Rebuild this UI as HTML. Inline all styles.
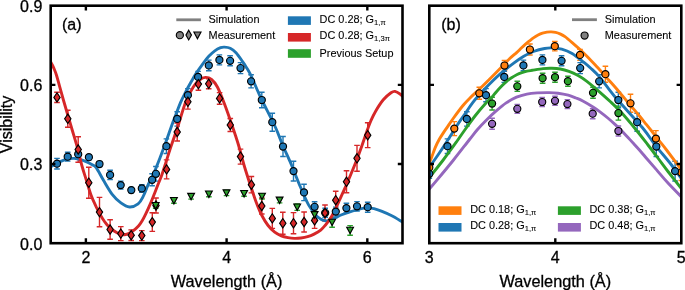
<!DOCTYPE html>
<html><head><meta charset="utf-8"><title>Visibility vs wavelength</title>
<style>
html,body{margin:0;padding:0;background:#fff;width:685px;height:290px;overflow:hidden;}
svg{display:block;will-change:transform;font-family:"Liberation Sans",sans-serif;}
text{fill:#000;stroke:#000;stroke-width:0.3px;}
text.l{stroke-width:0.1px;}
</style></head><body>
<svg width="685" height="290" viewBox="0 0 685 290">
<defs><clipPath id="ca"><rect x="50.70" y="5.70" width="351.80" height="237.50"/></clipPath><clipPath id="cb"><rect x="429.30" y="5.70" width="252.00" height="237.50"/></clipPath></defs>
<g clip-path="url(#ca)"><path d="M57.00,158.40V169.00M54.20,158.40H59.80M54.20,169.00H59.80" stroke="#1f77b4" stroke-width="1.4" fill="none"/>
<path d="M67.70,152.30V161.10M64.90,152.30H70.50M64.90,161.10H70.50" stroke="#1f77b4" stroke-width="1.4" fill="none"/>
<path d="M78.20,151.60V156.80M75.40,151.60H81.00M75.40,156.80H81.00" stroke="#1f77b4" stroke-width="1.4" fill="none"/>
<path d="M88.90,154.60V159.80M86.10,154.60H91.70M86.10,159.80H91.70" stroke="#1f77b4" stroke-width="1.4" fill="none"/>
<path d="M99.50,161.40V166.60M96.70,161.40H102.30M96.70,166.60H102.30" stroke="#1f77b4" stroke-width="1.4" fill="none"/>
<path d="M110.10,170.30V179.50M107.30,170.30H112.90M107.30,179.50H112.90" stroke="#1f77b4" stroke-width="1.4" fill="none"/>
<path d="M120.70,181.10V189.10M117.90,181.10H123.50M117.90,189.10H123.50" stroke="#1f77b4" stroke-width="1.4" fill="none"/>
<path d="M131.30,187.50V192.70M128.50,187.50H134.10M128.50,192.70H134.10" stroke="#1f77b4" stroke-width="1.4" fill="none"/>
<path d="M141.80,184.60V192.20M139.00,184.60H144.60M139.00,192.20H144.60" stroke="#1f77b4" stroke-width="1.4" fill="none"/>
<path d="M152.10,173.80V185.80M149.30,173.80H154.90M149.30,185.80H154.90" stroke="#1f77b4" stroke-width="1.4" fill="none"/>
<path d="M155.90,166.50V181.10M153.10,166.50H158.70M153.10,181.10H158.70" stroke="#1f77b4" stroke-width="1.4" fill="none"/>
<path d="M166.40,138.90V153.50M163.60,138.90H169.20M163.60,153.50H169.20" stroke="#1f77b4" stroke-width="1.4" fill="none"/>
<path d="M177.20,111.70V126.10M174.40,111.70H180.00M174.40,126.10H180.00" stroke="#1f77b4" stroke-width="1.4" fill="none"/>
<path d="M187.90,88.60V101.80M185.10,88.60H190.70M185.10,101.80H190.70" stroke="#1f77b4" stroke-width="1.4" fill="none"/>
<path d="M198.10,71.40V82.40M195.30,71.40H200.90M195.30,82.40H200.90" stroke="#1f77b4" stroke-width="1.4" fill="none"/>
<path d="M208.80,60.10V70.70M206.00,60.10H211.60M206.00,70.70H211.60" stroke="#1f77b4" stroke-width="1.4" fill="none"/>
<path d="M219.40,54.90V64.90M216.60,54.90H222.20M216.60,64.90H222.20" stroke="#1f77b4" stroke-width="1.4" fill="none"/>
<path d="M230.10,55.80V65.80M227.30,55.80H232.90M227.30,65.80H232.90" stroke="#1f77b4" stroke-width="1.4" fill="none"/>
<path d="M240.50,62.60V73.60M237.70,62.60H243.30M237.70,73.60H243.30" stroke="#1f77b4" stroke-width="1.4" fill="none"/>
<path d="M251.10,74.70V87.90M248.30,74.70H253.90M248.30,87.90H253.90" stroke="#1f77b4" stroke-width="1.4" fill="none"/>
<path d="M261.80,92.30V107.70M259.00,92.30H264.60M259.00,107.70H264.60" stroke="#1f77b4" stroke-width="1.4" fill="none"/>
<path d="M272.30,113.20V131.20M269.50,113.20H275.10M269.50,131.20H275.10" stroke="#1f77b4" stroke-width="1.4" fill="none"/>
<path d="M283.00,136.50V156.50M280.20,136.50H285.80M280.20,156.50H285.80" stroke="#1f77b4" stroke-width="1.4" fill="none"/>
<path d="M293.50,161.20V181.00M290.70,161.20H296.30M290.70,181.00H296.30" stroke="#1f77b4" stroke-width="1.4" fill="none"/>
<path d="M304.00,184.20V200.60M301.20,184.20H306.80M301.20,200.60H306.80" stroke="#1f77b4" stroke-width="1.4" fill="none"/>
<path d="M314.60,201.80V211.80M311.80,201.80H317.40M311.80,211.80H317.40" stroke="#1f77b4" stroke-width="1.4" fill="none"/>
<path d="M325.20,208.30V217.30M322.40,208.30H328.00M322.40,217.30H328.00" stroke="#1f77b4" stroke-width="1.4" fill="none"/>
<path d="M335.80,207.10V216.10M333.00,207.10H338.60M333.00,216.10H338.60" stroke="#1f77b4" stroke-width="1.4" fill="none"/>
<path d="M346.40,203.30V212.90M343.60,203.30H349.20M343.60,212.90H349.20" stroke="#1f77b4" stroke-width="1.4" fill="none"/>
<path d="M357.00,201.60V211.00M354.20,201.60H359.80M354.20,211.00H359.80" stroke="#1f77b4" stroke-width="1.4" fill="none"/>
<path d="M367.70,202.20V212.20M364.90,202.20H370.50M364.90,212.20H370.50" stroke="#1f77b4" stroke-width="1.4" fill="none"/>
<path d="M57.00,92.30V102.50M54.20,92.30H59.80M54.20,102.50H59.80" stroke="#d62728" stroke-width="1.4" fill="none"/>
<path d="M67.80,110.30V127.30M65.00,110.30H70.60M65.00,127.30H70.60" stroke="#d62728" stroke-width="1.4" fill="none"/>
<path d="M78.20,136.70V162.30M75.40,136.70H81.00M75.40,162.30H81.00" stroke="#d62728" stroke-width="1.4" fill="none"/>
<path d="M88.80,167.20V198.20M86.00,167.20H91.60M86.00,198.20H91.60" stroke="#d62728" stroke-width="1.4" fill="none"/>
<path d="M99.50,197.40V226.80M96.70,197.40H102.30M96.70,226.80H102.30" stroke="#d62728" stroke-width="1.4" fill="none"/>
<path d="M110.10,219.70V239.30M107.30,219.70H112.90M107.30,239.30H112.90" stroke="#d62728" stroke-width="1.4" fill="none"/>
<path d="M120.80,226.60V240.60M118.00,226.60H123.60M118.00,240.60H123.60" stroke="#d62728" stroke-width="1.4" fill="none"/>
<path d="M131.20,229.90V240.50M128.40,229.90H134.00M128.40,240.50H134.00" stroke="#d62728" stroke-width="1.4" fill="none"/>
<path d="M141.80,230.60V240.60M139.00,230.60H144.60M139.00,240.60H144.60" stroke="#d62728" stroke-width="1.4" fill="none"/>
<path d="M152.30,212.80V231.40M149.50,212.80H155.10M149.50,231.40H155.10" stroke="#d62728" stroke-width="1.4" fill="none"/>
<path d="M156.00,198.00V213.00M153.20,198.00H158.80M153.20,213.00H158.80" stroke="#d62728" stroke-width="1.4" fill="none"/>
<path d="M166.60,159.90V178.90M163.80,159.90H169.40M163.80,178.90H169.40" stroke="#d62728" stroke-width="1.4" fill="none"/>
<path d="M177.20,123.00V141.00M174.40,123.00H180.00M174.40,141.00H180.00" stroke="#d62728" stroke-width="1.4" fill="none"/>
<path d="M187.90,94.50V109.10M185.10,94.50H190.70M185.10,109.10H190.70" stroke="#d62728" stroke-width="1.4" fill="none"/>
<path d="M198.40,77.90V90.30M195.60,77.90H201.20M195.60,90.30H201.20" stroke="#d62728" stroke-width="1.4" fill="none"/>
<path d="M208.70,78.80V88.80M205.90,78.80H211.50M205.90,88.80H211.50" stroke="#d62728" stroke-width="1.4" fill="none"/>
<path d="M219.60,92.60V104.20M216.80,92.60H222.40M216.80,104.20H222.40" stroke="#d62728" stroke-width="1.4" fill="none"/>
<path d="M230.30,118.50V131.50M227.50,118.50H233.10M227.50,131.50H233.10" stroke="#d62728" stroke-width="1.4" fill="none"/>
<path d="M240.50,149.10V164.10M237.70,149.10H243.30M237.70,164.10H243.30" stroke="#d62728" stroke-width="1.4" fill="none"/>
<path d="M251.40,176.50V192.90M248.60,176.50H254.20M248.60,192.90H254.20" stroke="#d62728" stroke-width="1.4" fill="none"/>
<path d="M261.80,198.00V214.00M259.00,198.00H264.60M259.00,214.00H264.60" stroke="#d62728" stroke-width="1.4" fill="none"/>
<path d="M272.30,208.40V228.40M269.50,208.40H275.10M269.50,228.40H275.10" stroke="#d62728" stroke-width="1.4" fill="none"/>
<path d="M282.80,212.20V234.20M280.00,212.20H285.60M280.00,234.20H285.60" stroke="#d62728" stroke-width="1.4" fill="none"/>
<path d="M293.50,212.60V233.80M290.70,212.60H296.30M290.70,233.80H296.30" stroke="#d62728" stroke-width="1.4" fill="none"/>
<path d="M304.10,212.00V232.00M301.30,212.00H306.90M301.30,232.00H306.90" stroke="#d62728" stroke-width="1.4" fill="none"/>
<path d="M314.60,212.40V228.40M311.80,212.40H317.40M311.80,228.40H317.40" stroke="#d62728" stroke-width="1.4" fill="none"/>
<path d="M325.00,205.00V221.00M322.20,205.00H327.80M322.20,221.00H327.80" stroke="#d62728" stroke-width="1.4" fill="none"/>
<path d="M335.70,191.20V209.20M332.90,191.20H338.50M332.90,209.20H338.50" stroke="#d62728" stroke-width="1.4" fill="none"/>
<path d="M346.50,170.80V192.80M343.70,170.80H349.30M343.70,192.80H349.30" stroke="#d62728" stroke-width="1.4" fill="none"/>
<path d="M357.00,145.40V171.20M354.20,145.40H359.80M354.20,171.20H359.80" stroke="#d62728" stroke-width="1.4" fill="none"/>
<path d="M367.70,122.80V147.60M364.90,122.80H370.50M364.90,147.60H370.50" stroke="#d62728" stroke-width="1.4" fill="none"/>
<path d="M155.70,203.10V208.30M152.90,203.10H158.50M152.90,208.30H158.50" stroke="#2ca02c" stroke-width="1.4" fill="none"/>
<path d="M173.90,198.10V203.30M171.10,198.10H176.70M171.10,203.30H176.70" stroke="#2ca02c" stroke-width="1.4" fill="none"/>
<path d="M191.10,193.90V199.10M188.30,193.90H193.90M188.30,199.10H193.90" stroke="#2ca02c" stroke-width="1.4" fill="none"/>
<path d="M208.90,191.60V196.80M206.10,191.60H211.70M206.10,196.80H211.70" stroke="#2ca02c" stroke-width="1.4" fill="none"/>
<path d="M226.50,190.40V195.60M223.70,190.40H229.30M223.70,195.60H229.30" stroke="#2ca02c" stroke-width="1.4" fill="none"/>
<path d="M244.10,191.10V196.30M241.30,191.10H246.90M241.30,196.30H246.90" stroke="#2ca02c" stroke-width="1.4" fill="none"/>
<path d="M262.00,193.80V199.00M259.20,193.80H264.80M259.20,199.00H264.80" stroke="#2ca02c" stroke-width="1.4" fill="none"/>
<path d="M279.60,197.70V202.90M276.80,197.70H282.40M276.80,202.90H282.40" stroke="#2ca02c" stroke-width="1.4" fill="none"/>
<path d="M297.20,204.00V210.40M294.40,204.00H300.00M294.40,210.40H300.00" stroke="#2ca02c" stroke-width="1.4" fill="none"/>
<path d="M314.60,211.30V218.30M311.80,211.30H317.40M311.80,218.30H317.40" stroke="#2ca02c" stroke-width="1.4" fill="none"/>
<path d="M332.10,217.60V227.20M329.30,217.60H334.90M329.30,227.20H334.90" stroke="#2ca02c" stroke-width="1.4" fill="none"/>
<path d="M350.10,225.60V235.20M347.30,225.60H352.90M347.30,235.20H352.90" stroke="#2ca02c" stroke-width="1.4" fill="none"/>
<path d="M48.50,167.50 C49.02,167.30 49.75,167.25 51.60,166.30 C53.45,165.35 56.80,163.03 59.60,161.80 C62.40,160.57 65.97,159.47 68.40,158.90 C70.83,158.33 71.77,158.17 74.20,158.40 C76.63,158.63 79.83,159.17 83.00,160.30 C86.17,161.43 90.92,163.85 93.20,165.20 C95.48,166.55 94.97,165.85 96.70,168.40 C98.43,170.95 101.02,176.18 103.60,180.50 C106.18,184.82 109.32,190.57 112.20,194.30 C115.08,198.03 118.02,200.78 120.90,202.90 C123.78,205.02 126.63,206.83 129.50,207.00 C132.37,207.17 135.80,205.70 138.10,203.90 C140.40,202.10 141.58,199.48 143.30,196.20 C145.02,192.92 146.65,188.02 148.40,184.20 C150.15,180.38 151.75,178.00 153.80,173.30 C155.85,168.60 158.68,161.22 160.70,156.00 C162.72,150.78 164.03,147.17 165.90,142.00 C167.77,136.83 170.18,129.70 171.90,125.00 C173.62,120.30 174.77,117.53 176.20,113.80 C177.63,110.07 178.92,106.27 180.50,102.60 C182.08,98.93 183.97,95.18 185.70,91.80 C187.43,88.42 189.18,85.33 190.90,82.30 C192.62,79.27 193.95,76.77 196.00,73.60 C198.05,70.43 201.03,66.22 203.20,63.30 C205.37,60.38 207.07,58.18 209.00,56.10 C210.93,54.02 212.87,52.20 214.80,50.80 C216.73,49.40 219.00,48.32 220.60,47.70 C222.20,47.08 222.80,47.00 224.40,47.10 C226.00,47.20 228.27,47.37 230.20,48.30 C232.13,49.23 233.93,50.48 236.00,52.70 C238.07,54.92 240.87,59.15 242.60,61.60 C244.33,64.05 245.03,65.15 246.40,67.40 C247.77,69.65 249.20,71.83 250.80,75.10 C252.40,78.37 254.20,82.93 256.00,87.00 C257.80,91.07 258.38,92.83 261.60,99.50 C264.82,106.17 271.80,119.42 275.30,127.00 C278.80,134.58 279.90,138.67 282.60,145.00 C285.30,151.33 288.60,158.17 291.50,165.00 C294.40,171.83 297.13,179.32 300.00,186.00 C302.87,192.68 305.80,199.98 308.70,205.10 C311.60,210.22 314.60,214.07 317.40,216.70 C320.20,219.33 323.18,220.38 325.50,220.90 C327.82,221.42 329.53,220.38 331.30,219.80 C333.07,219.22 334.48,218.20 336.10,217.40 C337.72,216.60 338.58,215.97 341.00,215.00 C343.42,214.03 347.38,212.63 350.60,211.60 C353.82,210.57 357.57,209.42 360.30,208.80 C363.03,208.18 364.72,207.92 367.00,207.90 C369.28,207.88 371.60,208.15 374.00,208.70 C376.40,209.25 378.43,210.02 381.40,211.20 C384.37,212.38 388.35,214.03 391.80,215.80 C395.25,217.57 399.57,220.30 402.10,221.80 C404.63,223.30 406.18,224.30 407.00,224.80" fill="none" stroke="#1f77b4" stroke-width="2.90" stroke-linecap="butt" stroke-linejoin="round"/>
<path d="M48.50,57.50 C49.02,58.52 50.68,61.75 51.60,63.60 C52.52,65.45 53.18,66.67 54.00,68.60 C54.82,70.53 55.57,72.23 56.50,75.20 C57.43,78.17 58.45,82.27 59.60,86.40 C60.75,90.53 62.03,95.23 63.40,100.00 C64.77,104.77 66.33,110.00 67.80,115.00 C69.27,120.00 70.58,124.50 72.20,130.00 C73.82,135.50 75.92,142.17 77.50,148.00 C79.08,153.83 80.23,159.67 81.70,165.00 C83.17,170.33 84.75,175.00 86.30,180.00 C87.85,185.00 89.38,190.58 91.00,195.00 C92.62,199.42 94.43,203.17 96.00,206.50 C97.57,209.83 98.98,212.50 100.40,215.00 C101.82,217.50 103.12,219.57 104.50,221.50 C105.88,223.43 106.62,224.72 108.70,226.60 C110.78,228.48 114.43,231.43 117.00,232.80 C119.57,234.17 121.52,235.07 124.10,234.80 C126.68,234.53 130.10,232.67 132.50,231.20 C134.90,229.73 136.87,227.77 138.50,226.00 C140.13,224.23 141.15,222.48 142.30,220.60 C143.45,218.72 144.10,217.40 145.40,214.70 C146.70,212.00 148.67,207.72 150.10,204.40 C151.53,201.08 152.72,198.03 154.00,194.80 C155.28,191.57 156.48,188.35 157.80,185.00 C159.12,181.65 160.55,178.47 161.90,174.70 C163.25,170.93 164.58,166.52 165.90,162.40 C167.22,158.28 168.47,154.07 169.80,150.00 C171.13,145.93 172.53,142.00 173.90,138.00 C175.27,134.00 175.98,132.17 178.00,126.00 C180.02,119.83 183.45,107.50 186.00,101.00 C188.55,94.50 191.05,90.50 193.30,87.00 C195.55,83.50 197.47,81.60 199.50,80.00 C201.53,78.40 203.50,77.48 205.50,77.40 C207.50,77.32 209.52,77.90 211.50,79.50 C213.48,81.10 215.23,82.92 217.40,87.00 C219.57,91.08 222.02,97.50 224.50,104.00 C226.98,110.50 229.97,119.17 232.30,126.00 C234.63,132.83 236.50,138.33 238.50,145.00 C240.50,151.67 242.22,159.00 244.30,166.00 C246.38,173.00 248.97,180.83 251.00,187.00 C253.03,193.17 254.73,198.33 256.50,203.00 C258.27,207.67 259.67,211.25 261.60,215.00 C263.53,218.75 265.92,222.65 268.10,225.50 C270.28,228.35 272.50,230.38 274.70,232.10 C276.90,233.82 279.10,234.88 281.30,235.80 C283.50,236.72 285.72,237.17 287.90,237.60 C290.08,238.03 292.22,238.33 294.40,238.40 C296.58,238.47 298.80,238.28 301.00,238.00 C303.20,237.72 305.42,237.35 307.60,236.70 C309.78,236.05 311.92,235.20 314.10,234.10 C316.28,233.00 318.80,231.62 320.70,230.10 C322.60,228.58 323.95,226.85 325.50,225.00 C327.05,223.15 328.62,221.08 330.00,219.00 C331.38,216.92 332.38,215.28 333.80,212.50 C335.22,209.72 336.68,206.27 338.50,202.30 C340.32,198.33 342.63,193.38 344.70,188.70 C346.77,184.02 348.93,178.90 350.90,174.20 C352.87,169.50 354.65,165.28 356.50,160.50 C358.35,155.72 360.25,150.42 362.00,145.50 C363.75,140.58 365.50,135.17 367.00,131.00 C368.50,126.83 369.58,123.77 371.00,120.50 C372.42,117.23 373.45,114.85 375.50,111.40 C377.55,107.95 380.72,102.90 383.30,99.80 C385.88,96.70 389.05,94.20 391.00,92.80 C392.95,91.40 393.43,91.15 395.00,91.40 C396.57,91.65 398.73,93.12 400.40,94.30 C402.07,95.48 404.23,97.80 405.00,98.50" fill="none" stroke="#d62728" stroke-width="2.90" stroke-linecap="butt" stroke-linejoin="round"/>
<circle cx="57.00" cy="163.70" r="3.55" fill="#1f77b4" stroke="#000" stroke-width="1.15"/>
<circle cx="67.70" cy="156.70" r="3.55" fill="#1f77b4" stroke="#000" stroke-width="1.15"/>
<circle cx="78.20" cy="154.20" r="3.55" fill="#1f77b4" stroke="#000" stroke-width="1.15"/>
<circle cx="88.90" cy="157.20" r="3.55" fill="#1f77b4" stroke="#000" stroke-width="1.15"/>
<circle cx="99.50" cy="164.00" r="3.55" fill="#1f77b4" stroke="#000" stroke-width="1.15"/>
<circle cx="110.10" cy="174.90" r="3.55" fill="#1f77b4" stroke="#000" stroke-width="1.15"/>
<circle cx="120.70" cy="185.10" r="3.55" fill="#1f77b4" stroke="#000" stroke-width="1.15"/>
<circle cx="131.30" cy="190.10" r="3.55" fill="#1f77b4" stroke="#000" stroke-width="1.15"/>
<circle cx="141.80" cy="188.40" r="3.55" fill="#1f77b4" stroke="#000" stroke-width="1.15"/>
<circle cx="152.10" cy="179.80" r="3.55" fill="#1f77b4" stroke="#000" stroke-width="1.15"/>
<circle cx="155.90" cy="173.80" r="3.55" fill="#1f77b4" stroke="#000" stroke-width="1.15"/>
<circle cx="166.40" cy="146.20" r="3.55" fill="#1f77b4" stroke="#000" stroke-width="1.15"/>
<circle cx="177.20" cy="118.90" r="3.55" fill="#1f77b4" stroke="#000" stroke-width="1.15"/>
<circle cx="187.90" cy="95.20" r="3.55" fill="#1f77b4" stroke="#000" stroke-width="1.15"/>
<circle cx="198.10" cy="76.90" r="3.55" fill="#1f77b4" stroke="#000" stroke-width="1.15"/>
<circle cx="208.80" cy="65.40" r="3.55" fill="#1f77b4" stroke="#000" stroke-width="1.15"/>
<circle cx="219.40" cy="59.90" r="3.55" fill="#1f77b4" stroke="#000" stroke-width="1.15"/>
<circle cx="230.10" cy="60.80" r="3.55" fill="#1f77b4" stroke="#000" stroke-width="1.15"/>
<circle cx="240.50" cy="68.10" r="3.55" fill="#1f77b4" stroke="#000" stroke-width="1.15"/>
<circle cx="251.10" cy="81.30" r="3.55" fill="#1f77b4" stroke="#000" stroke-width="1.15"/>
<circle cx="261.80" cy="100.00" r="3.55" fill="#1f77b4" stroke="#000" stroke-width="1.15"/>
<circle cx="272.30" cy="122.20" r="3.55" fill="#1f77b4" stroke="#000" stroke-width="1.15"/>
<circle cx="283.00" cy="146.50" r="3.55" fill="#1f77b4" stroke="#000" stroke-width="1.15"/>
<circle cx="293.50" cy="171.10" r="3.55" fill="#1f77b4" stroke="#000" stroke-width="1.15"/>
<circle cx="304.00" cy="192.40" r="3.55" fill="#1f77b4" stroke="#000" stroke-width="1.15"/>
<circle cx="314.60" cy="206.80" r="3.55" fill="#1f77b4" stroke="#000" stroke-width="1.15"/>
<circle cx="325.20" cy="212.80" r="3.55" fill="#1f77b4" stroke="#000" stroke-width="1.15"/>
<circle cx="335.80" cy="211.60" r="3.55" fill="#1f77b4" stroke="#000" stroke-width="1.15"/>
<circle cx="346.40" cy="208.10" r="3.55" fill="#1f77b4" stroke="#000" stroke-width="1.15"/>
<circle cx="357.00" cy="206.30" r="3.55" fill="#1f77b4" stroke="#000" stroke-width="1.15"/>
<circle cx="367.70" cy="207.20" r="3.55" fill="#1f77b4" stroke="#000" stroke-width="1.15"/>
<path d="M57.00,92.75L60.15,97.40L57.00,102.05L53.85,97.40Z" fill="#d62728" stroke="#000" stroke-width="1.15"/>
<path d="M67.80,114.15L70.95,118.80L67.80,123.45L64.65,118.80Z" fill="#d62728" stroke="#000" stroke-width="1.15"/>
<path d="M78.20,144.85L81.35,149.50L78.20,154.15L75.05,149.50Z" fill="#d62728" stroke="#000" stroke-width="1.15"/>
<path d="M88.80,178.05L91.95,182.70L88.80,187.35L85.65,182.70Z" fill="#d62728" stroke="#000" stroke-width="1.15"/>
<path d="M99.50,207.45L102.65,212.10L99.50,216.75L96.35,212.10Z" fill="#d62728" stroke="#000" stroke-width="1.15"/>
<path d="M110.10,224.85L113.25,229.50L110.10,234.15L106.95,229.50Z" fill="#d62728" stroke="#000" stroke-width="1.15"/>
<path d="M120.80,228.95L123.95,233.60L120.80,238.25L117.65,233.60Z" fill="#d62728" stroke="#000" stroke-width="1.15"/>
<path d="M131.20,230.55L134.35,235.20L131.20,239.85L128.05,235.20Z" fill="#d62728" stroke="#000" stroke-width="1.15"/>
<path d="M141.80,230.95L144.95,235.60L141.80,240.25L138.65,235.60Z" fill="#d62728" stroke="#000" stroke-width="1.15"/>
<path d="M152.30,217.45L155.45,222.10L152.30,226.75L149.15,222.10Z" fill="#d62728" stroke="#000" stroke-width="1.15"/>
<path d="M156.00,200.85L159.15,205.50L156.00,210.15L152.85,205.50Z" fill="#d62728" stroke="#000" stroke-width="1.15"/>
<path d="M166.60,164.75L169.75,169.40L166.60,174.05L163.45,169.40Z" fill="#d62728" stroke="#000" stroke-width="1.15"/>
<path d="M177.20,127.35L180.35,132.00L177.20,136.65L174.05,132.00Z" fill="#d62728" stroke="#000" stroke-width="1.15"/>
<path d="M187.90,97.15L191.05,101.80L187.90,106.45L184.75,101.80Z" fill="#d62728" stroke="#000" stroke-width="1.15"/>
<path d="M198.40,79.45L201.55,84.10L198.40,88.75L195.25,84.10Z" fill="#d62728" stroke="#000" stroke-width="1.15"/>
<path d="M208.70,79.15L211.85,83.80L208.70,88.45L205.55,83.80Z" fill="#d62728" stroke="#000" stroke-width="1.15"/>
<path d="M219.60,93.75L222.75,98.40L219.60,103.05L216.45,98.40Z" fill="#d62728" stroke="#000" stroke-width="1.15"/>
<path d="M230.30,120.35L233.45,125.00L230.30,129.65L227.15,125.00Z" fill="#d62728" stroke="#000" stroke-width="1.15"/>
<path d="M240.50,151.95L243.65,156.60L240.50,161.25L237.35,156.60Z" fill="#d62728" stroke="#000" stroke-width="1.15"/>
<path d="M251.40,180.05L254.55,184.70L251.40,189.35L248.25,184.70Z" fill="#d62728" stroke="#000" stroke-width="1.15"/>
<path d="M261.80,201.35L264.95,206.00L261.80,210.65L258.65,206.00Z" fill="#d62728" stroke="#000" stroke-width="1.15"/>
<path d="M272.30,213.75L275.45,218.40L272.30,223.05L269.15,218.40Z" fill="#d62728" stroke="#000" stroke-width="1.15"/>
<path d="M282.80,218.55L285.95,223.20L282.80,227.85L279.65,223.20Z" fill="#d62728" stroke="#000" stroke-width="1.15"/>
<path d="M293.50,218.55L296.65,223.20L293.50,227.85L290.35,223.20Z" fill="#d62728" stroke="#000" stroke-width="1.15"/>
<path d="M304.10,217.35L307.25,222.00L304.10,226.65L300.95,222.00Z" fill="#d62728" stroke="#000" stroke-width="1.15"/>
<path d="M314.60,215.75L317.75,220.40L314.60,225.05L311.45,220.40Z" fill="#d62728" stroke="#000" stroke-width="1.15"/>
<path d="M325.00,208.35L328.15,213.00L325.00,217.65L321.85,213.00Z" fill="#d62728" stroke="#000" stroke-width="1.15"/>
<path d="M335.70,195.55L338.85,200.20L335.70,204.85L332.55,200.20Z" fill="#d62728" stroke="#000" stroke-width="1.15"/>
<path d="M346.50,177.15L349.65,181.80L346.50,186.45L343.35,181.80Z" fill="#d62728" stroke="#000" stroke-width="1.15"/>
<path d="M357.00,153.65L360.15,158.30L357.00,162.95L353.85,158.30Z" fill="#d62728" stroke="#000" stroke-width="1.15"/>
<path d="M367.70,130.55L370.85,135.20L367.70,139.85L364.55,135.20Z" fill="#d62728" stroke="#000" stroke-width="1.15"/>
<path d="M152.30,202.50L159.10,202.50L155.70,208.90Z" fill="#2ca02c" stroke="#000" stroke-width="1.15" stroke-linejoin="miter"/>
<path d="M170.50,197.50L177.30,197.50L173.90,203.90Z" fill="#2ca02c" stroke="#000" stroke-width="1.15" stroke-linejoin="miter"/>
<path d="M187.70,193.30L194.50,193.30L191.10,199.70Z" fill="#2ca02c" stroke="#000" stroke-width="1.15" stroke-linejoin="miter"/>
<path d="M205.50,191.00L212.30,191.00L208.90,197.40Z" fill="#2ca02c" stroke="#000" stroke-width="1.15" stroke-linejoin="miter"/>
<path d="M223.10,189.80L229.90,189.80L226.50,196.20Z" fill="#2ca02c" stroke="#000" stroke-width="1.15" stroke-linejoin="miter"/>
<path d="M240.70,190.50L247.50,190.50L244.10,196.90Z" fill="#2ca02c" stroke="#000" stroke-width="1.15" stroke-linejoin="miter"/>
<path d="M258.60,193.20L265.40,193.20L262.00,199.60Z" fill="#2ca02c" stroke="#000" stroke-width="1.15" stroke-linejoin="miter"/>
<path d="M276.20,197.10L283.00,197.10L279.60,203.50Z" fill="#2ca02c" stroke="#000" stroke-width="1.15" stroke-linejoin="miter"/>
<path d="M293.80,204.00L300.60,204.00L297.20,210.40Z" fill="#2ca02c" stroke="#000" stroke-width="1.15" stroke-linejoin="miter"/>
<path d="M311.20,211.60L318.00,211.60L314.60,218.00Z" fill="#2ca02c" stroke="#000" stroke-width="1.15" stroke-linejoin="miter"/>
<path d="M328.70,219.20L335.50,219.20L332.10,225.60Z" fill="#2ca02c" stroke="#000" stroke-width="1.15" stroke-linejoin="miter"/>
<path d="M346.70,227.20L353.50,227.20L350.10,233.60Z" fill="#2ca02c" stroke="#000" stroke-width="1.15" stroke-linejoin="miter"/></g>
<path d="M176.3,19.8H200.9" stroke="#808080" stroke-width="2.8"/>
<circle cx="179.85" cy="35.20" r="3.55" fill="#808080" stroke="#000" stroke-width="1.15"/>
<path d="M188.70,30.25L191.45,35.10L188.70,39.95L185.95,35.10Z" fill="#808080" stroke="#000" stroke-width="1.15"/>
<path d="M193.90,31.95L201.00,31.95L197.45,38.85Z" fill="#808080" stroke="#000" stroke-width="1.15" stroke-linejoin="miter"/>
<text x="208.60" y="23.40" font-size="10.90" text-anchor="start" font-family="Liberation Sans, sans-serif" class="l">Simulation</text>
<text x="208.60" y="38.90" font-size="10.90" text-anchor="start" font-family="Liberation Sans, sans-serif" class="l">Measurement</text>
<rect x="287.9" y="16.3" width="23" height="8.6" fill="#1f77b4"/>
<rect x="287.9" y="33.0" width="23" height="8.6" fill="#d62728"/>
<rect x="287.9" y="49.2" width="23" height="8.6" fill="#2ca02c"/>
<text class="l" x="319.60" y="22.80" font-size="10.90" font-family="Liberation Sans, sans-serif">DC 0.28; G<tspan font-size="7.60" dy="2.0">1,&#960;</tspan></text>
<text class="l" x="319.60" y="39.20" font-size="10.90" font-family="Liberation Sans, sans-serif">DC 0.28; G<tspan font-size="7.60" dy="2.0">1,3&#960;</tspan></text>
<text x="319.60" y="56.70" font-size="10.90" text-anchor="start" font-family="Liberation Sans, sans-serif" class="l">Previous Setup</text>
<rect x="50.70" y="5.70" width="351.80" height="237.50" fill="none" stroke="#000" stroke-width="2.60"/>
<path d="M85.88,243.20V238.30M85.88,5.70V10.60" stroke="#000" stroke-width="2.4"/>
<path d="M226.60,243.20V238.30M226.60,5.70V10.60" stroke="#000" stroke-width="2.4"/>
<path d="M367.32,243.20V238.30M367.32,5.70V10.60" stroke="#000" stroke-width="2.4"/>
<path d="M50.70,164.03H55.40M402.50,164.03H397.80" stroke="#000" stroke-width="2.4"/>
<path d="M50.70,84.87H55.40M402.50,84.87H397.80" stroke="#000" stroke-width="2.4"/>
<text x="42.30" y="249.60" font-size="16.00" text-anchor="end" font-family="Liberation Sans, sans-serif" >0.0</text>
<text x="42.30" y="170.43" font-size="16.00" text-anchor="end" font-family="Liberation Sans, sans-serif" >0.3</text>
<text x="42.30" y="91.27" font-size="16.00" text-anchor="end" font-family="Liberation Sans, sans-serif" >0.6</text>
<text x="42.30" y="12.10" font-size="16.00" text-anchor="end" font-family="Liberation Sans, sans-serif" >0.9</text>
<text x="85.88" y="262.60" font-size="16.00" text-anchor="middle" font-family="Liberation Sans, sans-serif" >2</text>
<text x="226.60" y="262.60" font-size="16.00" text-anchor="middle" font-family="Liberation Sans, sans-serif" >4</text>
<text x="367.32" y="262.60" font-size="16.00" text-anchor="middle" font-family="Liberation Sans, sans-serif" >6</text>
<text x="226.60" y="286.60" font-size="16.30" text-anchor="middle" font-family="Liberation Sans, sans-serif" >Wavelength (&#197;)</text>
<text x="62.00" y="30.20" font-size="16.00" text-anchor="start" font-family="Liberation Sans, sans-serif" >(a)</text>
<text transform="translate(12.3,124.45) rotate(-90)" font-size="16" text-anchor="middle" font-family="Liberation Sans, sans-serif">Visibility</text>
<g clip-path="url(#cb)"><path d="M429.30,162.50V172.50M426.50,162.50H432.10M426.50,172.50H432.10" stroke="#ff7f0e" stroke-width="1.4" fill="none"/>
<path d="M454.30,121.60V135.60M451.50,121.60H457.10M451.50,135.60H457.10" stroke="#ff7f0e" stroke-width="1.4" fill="none"/>
<path d="M479.30,87.30V99.30M476.50,87.30H482.10M476.50,99.30H482.10" stroke="#ff7f0e" stroke-width="1.4" fill="none"/>
<path d="M504.50,60.50V70.50M501.70,60.50H507.30M501.70,70.50H507.30" stroke="#ff7f0e" stroke-width="1.4" fill="none"/>
<path d="M529.90,44.00V55.00M527.10,44.00H532.70M527.10,55.00H532.70" stroke="#ff7f0e" stroke-width="1.4" fill="none"/>
<path d="M554.80,41.50V50.90M552.00,41.50H557.60M552.00,50.90H557.60" stroke="#ff7f0e" stroke-width="1.4" fill="none"/>
<path d="M580.00,49.40V60.40M577.20,49.40H582.80M577.20,60.40H582.80" stroke="#ff7f0e" stroke-width="1.4" fill="none"/>
<path d="M605.40,66.20V82.20M602.60,66.20H608.20M602.60,82.20H608.20" stroke="#ff7f0e" stroke-width="1.4" fill="none"/>
<path d="M630.50,94.30V112.30M627.70,94.30H633.30M627.70,112.30H633.30" stroke="#ff7f0e" stroke-width="1.4" fill="none"/>
<path d="M655.90,130.60V146.60M653.10,130.60H658.70M653.10,146.60H658.70" stroke="#ff7f0e" stroke-width="1.4" fill="none"/>
<path d="M681.30,164.50V180.50M678.50,164.50H684.10M678.50,180.50H684.10" stroke="#ff7f0e" stroke-width="1.4" fill="none"/>
<path d="M429.30,169.30V178.30M426.50,169.30H432.10M426.50,178.30H432.10" stroke="#1f77b4" stroke-width="1.4" fill="none"/>
<path d="M447.49,138.90V153.50M444.69,138.90H450.29M444.69,153.50H450.29" stroke="#1f77b4" stroke-width="1.4" fill="none"/>
<path d="M466.83,111.70V126.10M464.03,111.70H469.63M464.03,126.10H469.63" stroke="#1f77b4" stroke-width="1.4" fill="none"/>
<path d="M486.00,88.60V101.80M483.20,88.60H488.80M483.20,101.80H488.80" stroke="#1f77b4" stroke-width="1.4" fill="none"/>
<path d="M504.26,71.40V82.40M501.46,71.40H507.06M501.46,82.40H507.06" stroke="#1f77b4" stroke-width="1.4" fill="none"/>
<path d="M523.42,60.10V70.70M520.62,60.10H526.22M520.62,70.70H526.22" stroke="#1f77b4" stroke-width="1.4" fill="none"/>
<path d="M542.41,54.90V64.90M539.61,54.90H545.21M539.61,64.90H545.21" stroke="#1f77b4" stroke-width="1.4" fill="none"/>
<path d="M561.57,55.80V65.80M558.77,55.80H564.37M558.77,65.80H564.37" stroke="#1f77b4" stroke-width="1.4" fill="none"/>
<path d="M580.19,62.60V73.60M577.39,62.60H582.99M577.39,73.60H582.99" stroke="#1f77b4" stroke-width="1.4" fill="none"/>
<path d="M599.17,74.70V87.90M596.37,74.70H601.97M596.37,87.90H601.97" stroke="#1f77b4" stroke-width="1.4" fill="none"/>
<path d="M618.34,92.30V107.70M615.54,92.30H621.14M615.54,107.70H621.14" stroke="#1f77b4" stroke-width="1.4" fill="none"/>
<path d="M637.14,113.20V131.20M634.34,113.20H639.94M634.34,131.20H639.94" stroke="#1f77b4" stroke-width="1.4" fill="none"/>
<path d="M656.30,136.50V156.50M653.50,136.50H659.10M653.50,156.50H659.10" stroke="#1f77b4" stroke-width="1.4" fill="none"/>
<path d="M675.10,161.20V181.00M672.30,161.20H677.90M672.30,181.00H677.90" stroke="#1f77b4" stroke-width="1.4" fill="none"/>
<path d="M693.91,184.20V200.60M691.11,184.20H696.71M691.11,200.60H696.71" stroke="#1f77b4" stroke-width="1.4" fill="none"/>
<path d="M712.89,201.80V211.80M710.09,201.80H715.69M710.09,211.80H715.69" stroke="#1f77b4" stroke-width="1.4" fill="none"/>
<path d="M492.10,97.20V110.00M489.30,97.20H494.90M489.30,110.00H494.90" stroke="#2ca02c" stroke-width="1.4" fill="none"/>
<path d="M517.30,81.20V91.40M514.50,81.20H520.10M514.50,91.40H520.10" stroke="#2ca02c" stroke-width="1.4" fill="none"/>
<path d="M542.60,73.20V83.20M539.80,73.20H545.40M539.80,83.20H545.40" stroke="#2ca02c" stroke-width="1.4" fill="none"/>
<path d="M555.00,72.20V82.20M552.20,72.20H557.80M552.20,82.20H557.80" stroke="#2ca02c" stroke-width="1.4" fill="none"/>
<path d="M567.90,76.20V86.20M565.10,76.20H570.70M565.10,86.20H570.70" stroke="#2ca02c" stroke-width="1.4" fill="none"/>
<path d="M593.00,87.30V98.30M590.20,87.30H595.80M590.20,98.30H595.80" stroke="#2ca02c" stroke-width="1.4" fill="none"/>
<path d="M618.40,106.10V120.10M615.60,106.10H621.20M615.60,120.10H621.20" stroke="#2ca02c" stroke-width="1.4" fill="none"/>
<path d="M492.10,118.30V129.30M489.30,118.30H494.90M489.30,129.30H494.90" stroke="#9467bd" stroke-width="1.4" fill="none"/>
<path d="M517.30,104.40V113.20M514.50,104.40H520.10M514.50,113.20H520.10" stroke="#9467bd" stroke-width="1.4" fill="none"/>
<path d="M542.20,97.50V106.50M539.40,97.50H545.00M539.40,106.50H545.00" stroke="#9467bd" stroke-width="1.4" fill="none"/>
<path d="M555.00,96.30V105.30M552.20,96.30H557.80M552.20,105.30H557.80" stroke="#9467bd" stroke-width="1.4" fill="none"/>
<path d="M567.40,99.60V108.60M564.60,99.60H570.20M564.60,108.60H570.20" stroke="#9467bd" stroke-width="1.4" fill="none"/>
<path d="M592.70,108.70V118.70M589.90,108.70H595.50M589.90,118.70H595.50" stroke="#9467bd" stroke-width="1.4" fill="none"/>
<path d="M618.40,126.00V136.00M615.60,126.00H621.20M615.60,136.00H621.20" stroke="#9467bd" stroke-width="1.4" fill="none"/>
<path d="M426.00,193.00 C426.55,192.33 427.52,191.10 429.30,189.00 C431.08,186.90 432.67,185.23 436.70,180.40 C440.73,175.57 448.03,166.82 453.50,160.00 C458.97,153.18 465.50,144.58 469.50,139.50 C473.50,134.42 474.67,132.75 477.50,129.50 C480.33,126.25 483.43,123.05 486.50,120.00 C489.57,116.95 492.62,114.05 495.90,111.20 C499.18,108.35 502.77,105.23 506.20,102.90 C509.63,100.57 513.05,98.67 516.50,97.20 C519.95,95.73 523.45,94.82 526.90,94.10 C530.35,93.38 533.48,93.15 537.20,92.90 C540.92,92.65 545.73,92.55 549.20,92.60 C552.67,92.65 554.83,92.77 558.00,93.20 C561.17,93.63 565.20,94.40 568.20,95.20 C571.20,96.00 573.57,97.03 576.00,98.00 C578.43,98.97 579.97,99.50 582.80,101.00 C585.63,102.50 590.13,105.20 593.00,107.00 C595.87,108.80 597.53,109.97 600.00,111.80 C602.47,113.63 605.30,115.90 607.80,118.00 C610.30,120.10 612.65,122.23 615.00,124.40 C617.35,126.57 619.73,128.82 621.90,131.00 C624.07,133.18 625.98,135.33 628.00,137.50 C630.02,139.67 631.92,141.72 634.00,144.00 C636.08,146.28 638.35,148.75 640.50,151.20 C642.65,153.65 644.22,155.58 646.90,158.70 C649.58,161.82 653.08,165.85 656.60,169.90 C660.12,173.95 663.43,178.07 668.00,183.00 C672.57,187.93 681.33,196.75 684.00,199.50" fill="none" stroke="#9467bd" stroke-width="2.90" stroke-linecap="butt" stroke-linejoin="round"/>
<path d="M426.00,181.00 C426.68,180.25 427.23,180.00 430.10,176.50 C432.97,173.00 438.70,165.92 443.20,160.00 C447.70,154.08 453.68,145.75 457.10,141.00 C460.52,136.25 460.72,135.67 463.70,131.50 C466.68,127.33 471.22,120.83 475.00,116.00 C478.78,111.17 483.65,105.58 486.40,102.50 C489.15,99.42 489.90,99.22 491.50,97.50 C493.10,95.78 494.38,94.03 496.00,92.20 C497.62,90.37 499.47,88.27 501.20,86.50 C502.93,84.73 504.68,83.05 506.40,81.60 C508.12,80.15 509.78,78.95 511.50,77.80 C513.22,76.65 514.97,75.57 516.70,74.70 C518.43,73.83 520.18,73.18 521.90,72.60 C523.62,72.02 525.28,71.58 527.00,71.20 C528.72,70.82 529.52,70.73 532.20,70.30 C534.88,69.87 539.85,68.93 543.10,68.60 C546.35,68.27 548.83,68.23 551.70,68.30 C554.57,68.37 557.42,68.48 560.30,69.00 C563.18,69.52 566.12,70.35 569.00,71.40 C571.88,72.45 574.73,73.73 577.60,75.30 C580.47,76.87 583.33,78.72 586.20,80.80 C589.07,82.88 591.93,85.38 594.80,87.80 C597.67,90.22 600.78,92.97 603.40,95.30 C606.02,97.63 607.65,99.08 610.50,101.80 C613.35,104.52 616.28,106.98 620.50,111.60 C624.72,116.22 631.22,123.93 635.80,129.50 C640.38,135.07 644.32,140.25 648.00,145.00 C651.68,149.75 654.57,153.58 657.90,158.00 C661.23,162.42 663.65,165.83 668.00,171.50 C672.35,177.17 681.33,188.58 684.00,192.00" fill="none" stroke="#2ca02c" stroke-width="2.90" stroke-linecap="butt" stroke-linejoin="round"/>
<path d="M406.13,196.20 C407.65,194.20 412.13,188.02 415.26,184.20 C418.39,180.38 421.26,178.00 424.93,173.30 C428.60,168.60 433.68,161.22 437.29,156.00 C440.90,150.78 443.26,147.17 446.60,142.00 C449.94,136.83 454.27,129.70 457.34,125.00 C460.42,120.30 462.48,117.53 465.04,113.80 C467.61,110.07 469.91,106.27 472.74,102.60 C475.58,98.93 478.95,95.18 482.06,91.80 C485.16,88.42 488.29,85.33 491.37,82.30 C494.44,79.27 496.83,76.77 500.50,73.60 C504.17,70.43 509.52,66.20 513.40,63.30 C517.28,60.40 520.32,58.23 523.78,56.22 C527.24,54.21 530.71,52.54 534.17,51.25 C537.63,49.96 541.69,49.04 544.56,48.49 C547.42,47.93 548.49,47.80 551.36,47.90 C554.23,48.00 558.28,48.17 561.75,49.10 C565.21,50.03 568.43,51.28 572.13,53.50 C575.83,55.72 580.85,59.95 583.95,62.40 C587.06,64.85 588.31,65.95 590.76,68.20 C593.21,70.45 595.77,72.63 598.64,75.90 C601.50,79.17 604.73,83.73 607.95,87.80 C611.17,91.87 612.22,93.63 617.98,100.30 C623.74,106.97 636.24,120.25 642.51,127.80 C648.78,135.35 650.75,139.38 655.58,145.58 C660.42,151.78 666.33,158.26 671.52,165.00 C676.72,171.74 681.61,179.32 686.74,186.00 C691.88,192.68 697.13,199.98 702.32,205.10 C707.52,210.22 712.89,214.07 717.90,216.70 C722.92,219.33 728.26,220.38 732.41,220.90 C736.56,221.42 739.63,220.38 742.80,219.80 C745.96,219.22 748.50,218.20 751.39,217.40 C754.29,216.60 755.84,215.97 760.17,215.00 C764.49,214.03 771.60,212.63 777.36,211.60 C783.12,210.57 789.83,209.42 794.73,208.80 C799.62,208.18 802.64,207.92 806.73,207.90 C810.82,207.88 814.96,208.15 819.26,208.70 C823.56,209.25 827.20,210.02 832.51,211.20 C837.83,212.38 844.96,214.03 851.14,215.80 C857.32,217.57 865.05,220.30 869.58,221.80 C874.12,223.30 876.90,224.30 878.36,224.80" fill="none" stroke="#1f77b4" stroke-width="2.90" stroke-linecap="butt" stroke-linejoin="round"/>
<path d="M427.00,166.00 C427.68,164.77 429.73,161.67 431.10,158.60 C432.47,155.53 433.83,150.82 435.20,147.60 C436.57,144.38 437.97,141.72 439.30,139.30 C440.63,136.88 441.87,135.13 443.20,133.10 C444.53,131.07 445.52,129.70 447.30,127.10 C449.08,124.50 451.28,121.10 453.90,117.50 C456.52,113.90 460.32,108.75 463.00,105.50 C465.68,102.25 467.23,100.75 470.00,98.00 C472.77,95.25 476.52,91.95 479.60,89.00 C482.68,86.05 485.57,83.22 488.50,80.30 C491.43,77.38 494.62,74.13 497.20,71.50 C499.78,68.87 501.87,66.72 504.00,64.50 C506.13,62.28 507.90,60.18 510.00,58.20 C512.10,56.22 514.77,54.25 516.60,52.60 C518.43,50.95 519.60,49.63 521.00,48.30 C522.40,46.97 523.60,45.82 525.00,44.60 C526.40,43.38 527.93,42.17 529.40,41.00 C530.87,39.83 532.35,38.60 533.80,37.60 C535.25,36.60 536.65,35.75 538.10,35.00 C539.55,34.25 541.03,33.58 542.50,33.10 C543.97,32.62 545.43,32.30 546.90,32.10 C548.37,31.90 549.85,31.85 551.30,31.90 C552.75,31.95 554.15,32.07 555.60,32.40 C557.05,32.73 558.43,33.18 560.00,33.90 C561.57,34.62 562.78,35.08 565.00,36.70 C567.22,38.32 570.53,41.22 573.30,43.60 C576.07,45.98 578.85,48.38 581.60,51.00 C584.35,53.62 587.05,56.47 589.80,59.30 C592.55,62.13 595.30,64.95 598.10,68.00 C600.90,71.05 603.82,74.47 606.60,77.60 C609.38,80.73 612.07,83.65 614.80,86.80 C617.53,89.95 620.27,93.27 623.00,96.50 C625.73,99.73 628.45,102.95 631.20,106.20 C633.95,109.45 636.95,112.92 639.50,116.00 C642.05,119.08 644.15,121.78 646.50,124.70 C648.85,127.62 651.27,130.57 653.60,133.50 C655.93,136.43 658.22,139.38 660.50,142.30 C662.78,145.22 663.17,145.55 667.30,151.00 C671.43,156.45 682.30,171.00 685.30,175.00" fill="none" stroke="#ff7f0e" stroke-width="2.90" stroke-linecap="butt" stroke-linejoin="round"/>
<circle cx="429.30" cy="167.50" r="3.55" fill="#ff7f0e" stroke="#000" stroke-width="1.15"/>
<circle cx="454.30" cy="128.60" r="3.55" fill="#ff7f0e" stroke="#000" stroke-width="1.15"/>
<circle cx="479.30" cy="93.30" r="3.55" fill="#ff7f0e" stroke="#000" stroke-width="1.15"/>
<circle cx="504.50" cy="65.50" r="3.55" fill="#ff7f0e" stroke="#000" stroke-width="1.15"/>
<circle cx="529.90" cy="49.50" r="3.55" fill="#ff7f0e" stroke="#000" stroke-width="1.15"/>
<circle cx="554.80" cy="46.20" r="3.55" fill="#ff7f0e" stroke="#000" stroke-width="1.15"/>
<circle cx="580.00" cy="54.90" r="3.55" fill="#ff7f0e" stroke="#000" stroke-width="1.15"/>
<circle cx="605.40" cy="74.20" r="3.55" fill="#ff7f0e" stroke="#000" stroke-width="1.15"/>
<circle cx="630.50" cy="103.30" r="3.55" fill="#ff7f0e" stroke="#000" stroke-width="1.15"/>
<circle cx="655.90" cy="138.60" r="3.55" fill="#ff7f0e" stroke="#000" stroke-width="1.15"/>
<circle cx="681.30" cy="172.50" r="3.55" fill="#ff7f0e" stroke="#000" stroke-width="1.15"/>
<circle cx="429.30" cy="173.80" r="3.55" fill="#1f77b4" stroke="#000" stroke-width="1.15"/>
<circle cx="447.49" cy="146.20" r="3.55" fill="#1f77b4" stroke="#000" stroke-width="1.15"/>
<circle cx="466.83" cy="118.90" r="3.55" fill="#1f77b4" stroke="#000" stroke-width="1.15"/>
<circle cx="486.00" cy="95.20" r="3.55" fill="#1f77b4" stroke="#000" stroke-width="1.15"/>
<circle cx="504.26" cy="76.90" r="3.55" fill="#1f77b4" stroke="#000" stroke-width="1.15"/>
<circle cx="523.42" cy="65.40" r="3.55" fill="#1f77b4" stroke="#000" stroke-width="1.15"/>
<circle cx="542.41" cy="59.90" r="3.55" fill="#1f77b4" stroke="#000" stroke-width="1.15"/>
<circle cx="561.57" cy="60.80" r="3.55" fill="#1f77b4" stroke="#000" stroke-width="1.15"/>
<circle cx="580.19" cy="68.10" r="3.55" fill="#1f77b4" stroke="#000" stroke-width="1.15"/>
<circle cx="599.17" cy="81.30" r="3.55" fill="#1f77b4" stroke="#000" stroke-width="1.15"/>
<circle cx="618.34" cy="100.00" r="3.55" fill="#1f77b4" stroke="#000" stroke-width="1.15"/>
<circle cx="637.14" cy="122.20" r="3.55" fill="#1f77b4" stroke="#000" stroke-width="1.15"/>
<circle cx="656.30" cy="146.50" r="3.55" fill="#1f77b4" stroke="#000" stroke-width="1.15"/>
<circle cx="675.10" cy="171.10" r="3.55" fill="#1f77b4" stroke="#000" stroke-width="1.15"/>
<circle cx="693.91" cy="192.40" r="3.55" fill="#1f77b4" stroke="#000" stroke-width="1.15"/>
<circle cx="712.89" cy="206.80" r="3.55" fill="#1f77b4" stroke="#000" stroke-width="1.15"/>
<circle cx="492.10" cy="103.60" r="3.55" fill="#2ca02c" stroke="#000" stroke-width="1.15"/>
<circle cx="517.30" cy="86.30" r="3.55" fill="#2ca02c" stroke="#000" stroke-width="1.15"/>
<circle cx="542.60" cy="78.20" r="3.55" fill="#2ca02c" stroke="#000" stroke-width="1.15"/>
<circle cx="555.00" cy="77.20" r="3.55" fill="#2ca02c" stroke="#000" stroke-width="1.15"/>
<circle cx="567.90" cy="81.20" r="3.55" fill="#2ca02c" stroke="#000" stroke-width="1.15"/>
<circle cx="593.00" cy="92.80" r="3.55" fill="#2ca02c" stroke="#000" stroke-width="1.15"/>
<circle cx="618.40" cy="113.10" r="3.55" fill="#2ca02c" stroke="#000" stroke-width="1.15"/>
<circle cx="492.10" cy="123.80" r="3.55" fill="#9467bd" stroke="#000" stroke-width="1.15"/>
<circle cx="517.30" cy="108.80" r="3.55" fill="#9467bd" stroke="#000" stroke-width="1.15"/>
<circle cx="542.20" cy="102.00" r="3.55" fill="#9467bd" stroke="#000" stroke-width="1.15"/>
<circle cx="555.00" cy="100.80" r="3.55" fill="#9467bd" stroke="#000" stroke-width="1.15"/>
<circle cx="567.40" cy="104.10" r="3.55" fill="#9467bd" stroke="#000" stroke-width="1.15"/>
<circle cx="592.70" cy="113.70" r="3.55" fill="#9467bd" stroke="#000" stroke-width="1.15"/>
<circle cx="618.40" cy="131.00" r="3.55" fill="#9467bd" stroke="#000" stroke-width="1.15"/></g>
<path d="M572.0,19.7H596.9" stroke="#808080" stroke-width="2.8"/>
<circle cx="584.60" cy="35.50" r="3.55" fill="#808080" stroke="#000" stroke-width="1.15"/>
<text x="604.80" y="23.40" font-size="10.90" text-anchor="start" font-family="Liberation Sans, sans-serif" class="l">Simulation</text>
<text x="604.80" y="38.90" font-size="10.90" text-anchor="start" font-family="Liberation Sans, sans-serif" class="l">Measurement</text>
<rect x="438.5" y="206.3" width="23" height="8.6" fill="#ff7f0e"/>
<rect x="438.5" y="223.0" width="23" height="8.6" fill="#1f77b4"/>
<rect x="557.9" y="206.3" width="23" height="8.6" fill="#2ca02c"/>
<rect x="557.9" y="223.0" width="23" height="8.6" fill="#9467bd"/>
<text class="l" x="470.20" y="212.80" font-size="10.90" font-family="Liberation Sans, sans-serif">DC 0.18; G<tspan font-size="7.60" dy="2.0">1,&#960;</tspan></text>
<text class="l" x="470.20" y="229.40" font-size="10.90" font-family="Liberation Sans, sans-serif">DC 0.28; G<tspan font-size="7.60" dy="2.0">1,&#960;</tspan></text>
<text class="l" x="589.50" y="212.80" font-size="10.90" font-family="Liberation Sans, sans-serif">DC 0.38; G<tspan font-size="7.60" dy="2.0">1,&#960;</tspan></text>
<text class="l" x="589.50" y="229.40" font-size="10.90" font-family="Liberation Sans, sans-serif">DC 0.48; G<tspan font-size="7.60" dy="2.0">1,&#960;</tspan></text>
<rect x="429.30" y="5.70" width="252.00" height="237.50" fill="none" stroke="#000" stroke-width="2.60"/>
<path d="M555.30,243.20V238.30M555.30,5.70V10.60" stroke="#000" stroke-width="2.4"/>
<path d="M429.30,164.03H434.00M681.30,164.03H676.60" stroke="#000" stroke-width="2.4"/>
<path d="M429.30,84.87H434.00M681.30,84.87H676.60" stroke="#000" stroke-width="2.4"/>
<text x="429.30" y="262.60" font-size="16.00" text-anchor="middle" font-family="Liberation Sans, sans-serif" >3</text>
<text x="555.30" y="262.60" font-size="16.00" text-anchor="middle" font-family="Liberation Sans, sans-serif" >4</text>
<text x="681.30" y="262.60" font-size="16.00" text-anchor="middle" font-family="Liberation Sans, sans-serif" >5</text>
<text x="555.30" y="286.60" font-size="16.30" text-anchor="middle" font-family="Liberation Sans, sans-serif" >Wavelength (&#197;)</text>
<text x="441.20" y="30.20" font-size="16.00" text-anchor="start" font-family="Liberation Sans, sans-serif" >(b)</text>
</svg>
</body></html>
